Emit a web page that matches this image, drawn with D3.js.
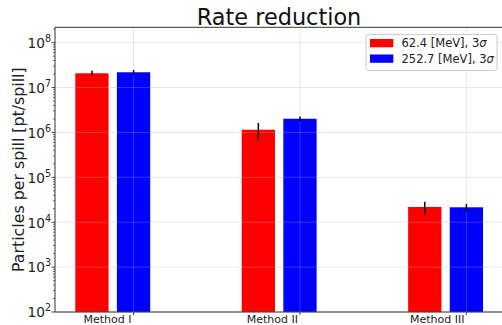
<!DOCTYPE html>
<html>
<head>
<meta charset="utf-8">
<script src="https://cdn.jsdelivr.net/npm/d3@7"></script>
<style>
  html, body { margin: 0; padding: 0; background: #fff; }
  svg { display: block; font-family: "DejaVu Sans", sans-serif; }
</style>
</head>
<body>
<svg id="chart" width="502" height="325"></svg>
<script>
// Particle rates per method for two beam energies (log scale)
const categories = ["Method I", "Method II", "Method III"];
const seriesNames = ["62.4 [MeV], 3σ", "252.7 [MeV], 3σ"];
const seriesColors = ["#ff0000", "#0000ff"];
const lowEnergyRate = [2.08e7, 1.15e6, 2.19e4];
const lowEnergyErr = [3.0e6, 4.8e5, 6.8e3];
const highEnergyRate = [2.19e7, 2.02e6, 2.15e4];
const highEnergyErr = [2.7e6, 2.5e5, 4.0e3];
const yTickExponents = [2, 3, 4, 5, 6, 7, 8];

const series = [
  { name: seriesNames[0], color: seriesColors[0], values: lowEnergyRate, errs: lowEnergyErr, offset: -0.25 },
  { name: seriesNames[1], color: seriesColors[1], values: highEnergyRate, errs: highEnergyErr, offset: 0 }
];
const barWidth = 0.2;

const svg = d3.select("#chart");
const plot = { left: 55, right: 503, top: 27.3, bottom: 312 };

const x = d3.scaleLinear().domain([-0.472, 2.22]).range([plot.left, plot.right]);
const y = d3.scaleLog().domain([1e2, 2.2e8]).range([plot.bottom, plot.top]);

// bars
series.forEach(s => {
  svg.append("g").selectAll("rect")
    .data(categories.map((c, i) => ({ i, v: s.values[i] })))
    .join("rect")
    .attr("x", d => x(d.i + s.offset - barWidth / 2))
    .attr("width", d => x(d.i + s.offset + barWidth / 2) - x(d.i + s.offset - barWidth / 2))
    .attr("y", d => y(d.v))
    .attr("height", d => plot.bottom - y(d.v))
    .attr("fill", s.color);
});

// grid on top of bars
const grid = svg.append("g").attr("stroke", "#b0b0b0").attr("stroke-opacity", 0.3).attr("stroke-width", 1);
yTickExponents.forEach(e => {
  grid.append("line").attr("x1", plot.left).attr("x2", plot.right)
    .attr("y1", y(Math.pow(10, e))).attr("y2", y(Math.pow(10, e)));
});
categories.forEach((c, i) => {
  grid.append("line").attr("x1", x(i)).attr("x2", x(i))
    .attr("y1", plot.top).attr("y2", plot.bottom);
});

// error bars
series.forEach(s => {
  svg.append("g").selectAll("line")
    .data(categories.map((c, i) => ({ i, v: s.values[i], e: s.errs[i] })))
    .join("line")
    .attr("x1", d => x(d.i + s.offset)).attr("x2", d => x(d.i + s.offset))
    .attr("y1", d => y(d.v + d.e)).attr("y2", d => y(d.v - d.e))
    .attr("stroke", "#000").attr("stroke-width", 1.5);
});

// y axis: major and minor log ticks
const yAxis = svg.append("g");
for (let e = 2; e <= 8; e++) {
  for (let m = 1; m <= 9; m++) {
    const v = m * Math.pow(10, e);
    if (v > y.domain()[1]) continue;
    const major = m === 1;
    yAxis.append("line")
      .attr("x1", plot.left).attr("x2", plot.left - (major ? 3.5 : 2))
      .attr("y1", y(v)).attr("y2", y(v))
      .attr("stroke", "#333").attr("stroke-width", major ? 0.9 : 0.7);
  }
}
yTickExponents.forEach(e => {
  const t = yAxis.append("text")
    .attr("x", 51).attr("y", y(Math.pow(10, e)) + 5.3)
    .attr("text-anchor", "end").attr("font-size", 13.7).attr("fill", "#222");
  t.append("tspan").text("10");
  t.append("tspan").attr("dy", -6).attr("font-size", 9.6).text(e);
});

// x axis ticks and labels
const xAxis = svg.append("g");
categories.forEach((c, i) => {
  xAxis.append("line").attr("x1", x(i)).attr("x2", x(i))
    .attr("y1", plot.bottom).attr("y2", plot.bottom + 3)
    .attr("stroke", "#333").attr("stroke-width", 0.9);
  xAxis.append("text").attr("x", x(i) - 2).attr("y", 323)
    .attr("text-anchor", "end").attr("font-size", 11).attr("fill", "#222").text(c);
});

// frame
svg.append("path")
  .attr("d", `M${plot.right},${plot.top}H${plot.left}V${plot.bottom}H${plot.right}`)
  .attr("fill", "none").attr("stroke", "#333").attr("stroke-width", 1);

// title and axis label
svg.append("text").attr("x", (plot.left + plot.right) / 2).attr("y", 25)
  .attr("text-anchor", "middle").attr("font-size", 22.4).attr("fill", "#111").text("Rate reduction");
svg.append("text")
  .attr("transform", `translate(23.5,${(plot.top + plot.bottom) / 2}) rotate(-90)`)
  .attr("text-anchor", "middle").attr("font-size", 15.8).attr("fill", "#222")
  .text("Particles per spill [pt/spill]");

// legend
const legend = svg.append("g");
legend.append("rect").attr("x", 366).attr("y", 34.5).attr("width", 131).attr("height", 36)
  .attr("rx", 2.5).attr("fill", "#fff").attr("fill-opacity", 0.85)
  .attr("stroke", "#cccccc").attr("stroke-width", 1);
series.forEach((s, k) => {
  const cy = 43.3 + k * 15.5;
  legend.append("rect").attr("x", 370).attr("y", cy - 4.3).attr("width", 23.3).attr("height", 8.3)
    .attr("fill", s.color);
  const t = legend.append("text").attr("x", 401.5).attr("y", cy + 4).attr("font-size", 11.5).attr("fill", "#222");
  const parts = s.name.split("σ");
  t.append("tspan").text(parts[0]);
  t.append("tspan").attr("font-style", "italic").text("σ");
});
</script>
</body>
</html>
